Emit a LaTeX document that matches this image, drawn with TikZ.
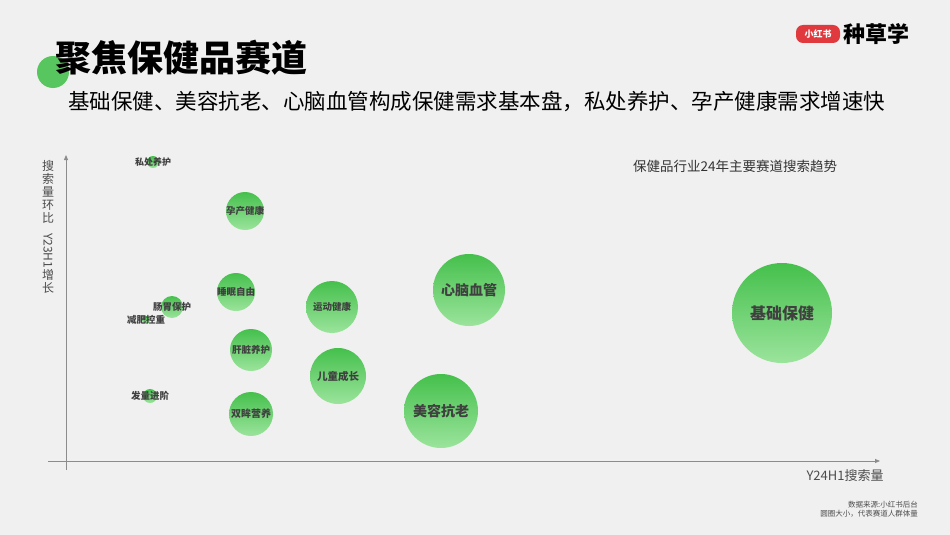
\documentclass[tikz,border=0pt]{standalone}
\usepackage{fontspec}
\setmainfont{Noto Sans CJK SC}
\usetikzlibrary{arrows.meta}
\definecolor{bg}{HTML}{F0F0F0}
\definecolor{gtop}{HTML}{45C04C}
\definecolor{gbot}{HTML}{9BE49C}
\definecolor{xhs}{HTML}{E0393E}
\tikzset{
 bub/.style={circle,minimum size=#1*2pt,inner sep=0pt,top color=gtop,bottom color=gbot,draw=none},
 blab/.style={font=\fontsize{#1}{#1}\selectfont\bfseries,text=black!75,inner sep=0pt},
 ax/.style={draw=black!45,line width=0.8pt},
}
\begin{document}
\begin{tikzpicture}[x=1pt,y=-1pt]
\fill[bg] (0,0) rectangle (950,535);
\useasboundingbox (0,0) rectangle (950,535);
\fill[gtop!90] (53,72) circle (16);
\node[anchor=west,font=\fontsize{36}{36}\selectfont\bfseries,inner sep=0] (title) at (55,58) {聚焦保健品赛道};
\node[anchor=west,font=\fontsize{21.5}{21.5}\selectfont,inner sep=0] (sub) at (68,102) {基础保健、美容抗老、心脑血管构成保健需求基本盘，私处养护、孕产健康需求增速快};
\node[fill=xhs,rounded corners=7pt,text=white,font=\fontsize{9}{9}\selectfont\bfseries,minimum width=44pt,minimum height=18pt,inner sep=0] (logo) at (818,34) {小红书};
\node[anchor=west,font=\fontsize{22}{22}\selectfont\bfseries,inner sep=0] (brand) at (843,34) {种草学};
\coordinate (o1) at (66,470); \coordinate (ytop) at (66,155);
\coordinate (x1) at (48,461); \coordinate (xend) at (880,461);
\draw[ax,-{Triangle[length=5pt,width=4pt]}] (o1) -- (ytop);
\draw[ax,-{Triangle[length=5pt,width=4pt]}] (x1) -- (xend);
\node[align=center,font=\fontsize{12}{13}\selectfont,text=black!70,inner sep=0,anchor=north] (ylab) at (48,160) {搜\\索\\量\\环\\比\\[-2pt]\rotatebox{-90}{Y23H1}\\增\\长};
\node[font=\fontsize{13}{13}\selectfont,text=black!70,inner sep=0] (xlab) at (845,476) {Y24H1搜索量};
\node[font=\fontsize{13.5}{13.5}\selectfont,text=black!80,inner sep=0] (legend) at (735,166) {保健品行业24年主要赛道搜索趋势};
\node[align=right,anchor=north east,font=\fontsize{7.5}{9}\selectfont,text=black!70,inner sep=0] (src) at (918,501) {数据来源:小红书后台\\圆圈大小，代表赛道人群体量};
\foreach \n/\x/\y/\r in {
 a/153/162/6, b/245/211/19, c/236/292/19, d/172/307/11, e/146/320/4,
 f/332/307/26, g/469/290/36, h/782/313/50, i/251/350/21, j/338/376/28,
 k/150/396/7, l/251/414/22, m/441/411/37}{
 \node[bub=\r] (\n) at (\x,\y) {};
}
\node[blab=9] at (a) {私处养护};
\node[blab=9.5] at (b) {孕产健康};
\node[blab=9.5] at (c) {睡眠自由};
\node[blab=9.5] at (d) {肠胃保护};
\node[blab=9.5] at (e) {减肥控重};
\node[blab=9.5] at (f) {运动健康};
\node[blab=14] at (g) {心脑血管};
\node[blab=16] at (h) {基础保健};
\node[blab=9.5] at (i) {肝脏养护};
\node[blab=10.5] at (j) {儿童成长};
\node[blab=9.5] at (k) {发量进阶};
\node[blab=10] at (l) {双眸营养};
\node[blab=14] at (m) {美容抗老};
\end{tikzpicture}
\end{document}
